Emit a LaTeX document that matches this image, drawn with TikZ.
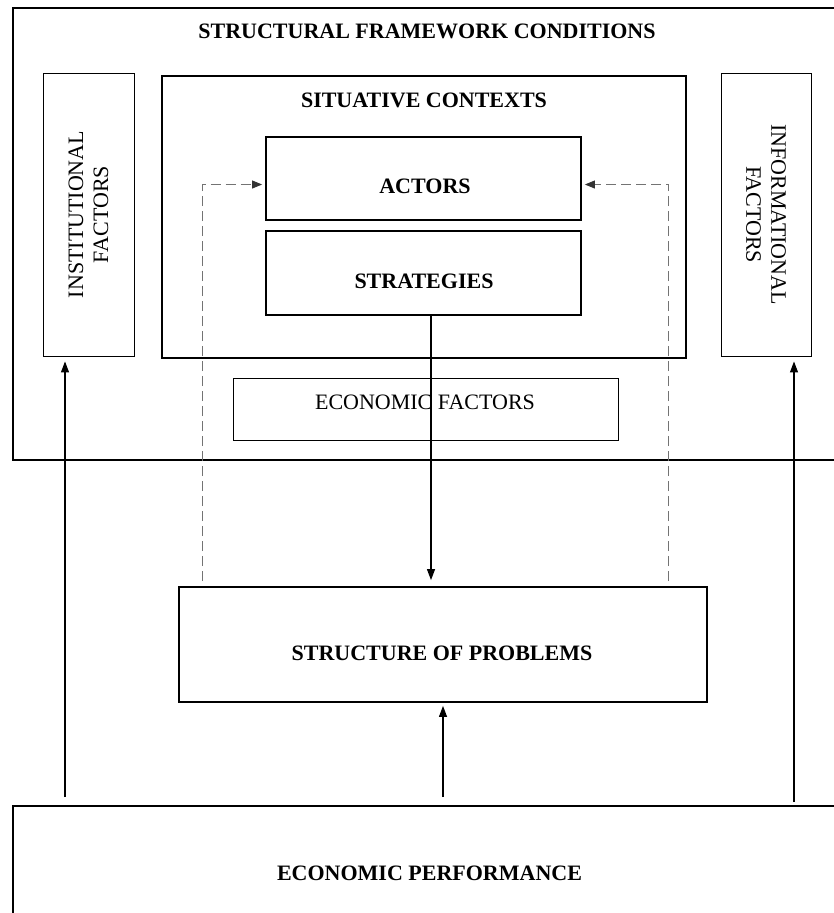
\documentclass[tikz,border=0pt]{standalone}
\usepackage{fontspec}
\setmainfont{Liberation Serif}
\usetikzlibrary{arrows.meta}
\begin{document}
\begin{tikzpicture}[x=1pt,y=-1pt,
        font=\fontsize{22}{25}\selectfont,
        heading/.style={font=\fontsize{22}{25}\selectfont\bfseries},
        thickbox/.style={draw,line width=1.8pt,inner sep=0pt},
        thinbox/.style={draw,line width=0.9pt,inner sep=0pt},
        arr/.style={-{Triangle[length=11pt,width=8pt]},line width=1.1pt},
        feedback/.style={-{Triangle[length=10pt,width=8pt,fill=black!80,color=black!80]},draw=black!55,line width=0.9pt,dash pattern=on 10pt off 5pt}]
                \useasboundingbox (0,0) rectangle (834,913);

                % outer frame
                \node[thickbox,minimum width=840,minimum height=452] (frame) at (433,234) {};
                \node[heading] (frametitle) at (427,31) {STRUCTURAL FRAMEWORK CONDITIONS};

                \node[thinbox,minimum width=91,minimum height=283] (inst) at (88.5,214.5) {};
                \node[rotate=90,align=center] (insttext) at (inst.center) {INSTITUTIONAL\\FACTORS};
                \node[thinbox,minimum width=90,minimum height=283] (info) at (766,214.5) {};
                \node[rotate=-90,align=center] (infotext) at (info.center) {INFORMATIONAL\\FACTORS};

                \node[thickbox,minimum width=524,minimum height=282] (sit) at (424,217) {};
                \node[heading] (sittitle) at (424,100) {SITUATIVE CONTEXTS};

                \node[thickbox,minimum width=315,minimum height=83] (actors) at (423.5,178.5) {};
                \node[heading] (actorstext) at (425,186) {ACTORS};
                \node[thickbox,minimum width=315,minimum height=84] (strat) at (423.5,273) {};
                \node[heading] (strattext) at (424,281) {STRATEGIES};

                \node[thinbox,minimum width=385,minimum height=62] (econ) at (425.5,409) {};
                \node (econtext) at (425,402) {ECONOMIC FACTORS};

                % lower boxes
                \node[thickbox,minimum width=528,minimum height=115] (prob) at (443,644.5) {};
                \node[heading] (probtext) at (442,653) {STRUCTURE OF PROBLEMS};
                \node[thickbox,minimum width=840,minimum height=134] (perf) at (433,873) {};
                \node[heading] (perftext) at (429.5,873) {ECONOMIC PERFORMANCE};

                % arrows
                \coordinate (stratfoot) at ([xshift=7.5pt]strat.south);
                \draw[arr,shorten >=6pt] (stratfoot) -- (stratfoot |- prob.north);
                \draw[arr,shorten <=8pt,shorten >=3pt] (perf.north -| prob.south) -- (prob.south);

                \coordinate (instfoot) at ([xshift=-23.5pt]inst.south);
                \coordinate (infofoot) at ([xshift=28pt]info.south);
                \draw[arr,shorten <=8pt,shorten >=5pt] (perf.north -| instfoot) -- (instfoot);
                \draw[arr,shorten <=3pt,shorten >=5pt] (perf.north -| infofoot) -- (infofoot);

                \draw[feedback,shorten <=5pt,shorten >=3pt] ([xshift=24pt]prob.north west) |- ([yshift=-6pt]actors.west);
                \draw[feedback,shorten <=5pt,shorten >=3pt] ([xshift=-39pt]prob.north east) |- ([yshift=-6pt]actors.east);

\end{tikzpicture}
\end{document}
